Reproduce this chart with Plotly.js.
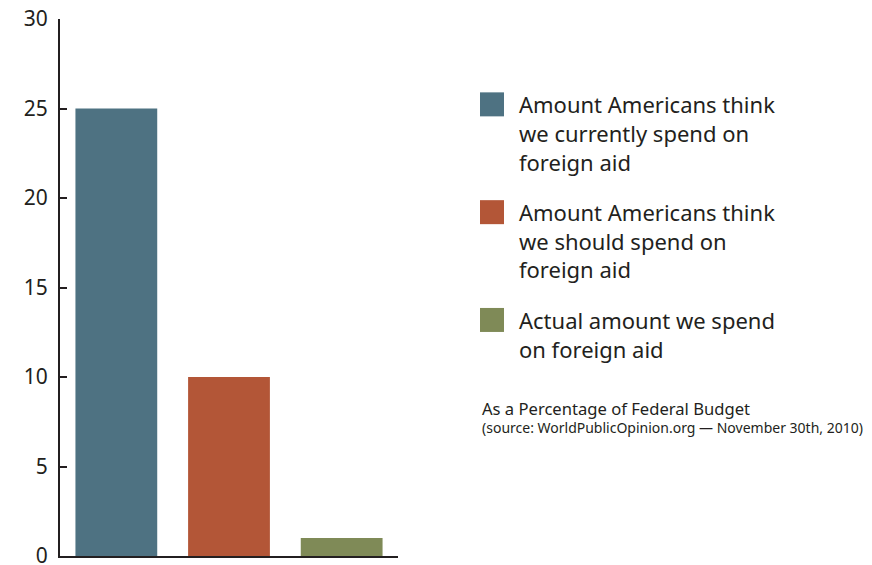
<!DOCTYPE html>
<html>
<head>
<meta charset="utf-8">
<script src="https://cdn.plot.ly/plotly-3.0.1.min.js"></script>
<style>html,body{margin:0;padding:0;background:#fff;}#chart{width:872px;height:565px;}</style>
</head>
<body>
<div id="chart"></div>
<script>
var categories = ["Think we spend", "Should spend", "Actual spend"];
var values = [25, 10, 1];
var seriesNames = [
  "Amount Americans think<br>we currently spend on<br>foreign aid",
  "Amount Americans think<br>we should spend on<br>foreign aid",
  "Actual amount we spend<br>on foreign aid"
];
var colors = ["#4e7282", "#b35637", "#7f8a57"];
var yTickVals = [0, 5, 10, 15, 20, 25, 30];
var noteTitle = "As a Percentage of Federal Budget";
var noteSource = "(source: WorldPublicOpinion.org \u2014 November 30th, 2010)";

var FONT = "Noto Sans, Open Sans, sans-serif";
var INK = "#231f20";

var traces = categories.map(function (c, i) {
  return {
    type: "bar",
    x: [c],
    y: [values[i]],
    name: seriesNames[i],
    legendgroup: "g" + i,
    marker: { color: colors[i], line: { width: 0 } },
    hoverinfo: "y"
  };
});

var layout = {
  width: 872,
  height: 565,
  margin: { l: 60, r: 474, t: 19, b: 9 },
  paper_bgcolor: "#ffffff",
  plot_bgcolor: "#ffffff",
  barmode: "overlay",
  bargap: 0.274,
  showlegend: true,
  font: { family: FONT, color: INK },
  xaxis: {
    type: "category",
    range: [-0.5, 2.5],
    showline: true,
    linecolor: INK,
    linewidth: 2,
    showticklabels: false,
    ticks: "",
    showgrid: false,
    zeroline: false,
    fixedrange: true
  },
  yaxis: {
    range: [0, 30],
    tickvals: yTickVals,
    ticktext: yTickVals.map(String),
    showline: true,
    linecolor: INK,
    linewidth: 2,
    ticks: "inside",
    ticklen: 7,
    tickwidth: 2,
    tickcolor: INK,
    ticklabelstandoff: 6,
    ticklabeloverflow: "allow",
    showgrid: false,
    zeroline: false,
    tickfont: { family: FONT, size: 21, color: INK },
    fixedrange: true
  },
  legend: {
    x: 1.21,
    y: 0.879,
    xanchor: "left",
    yanchor: "top",
    valign: "top",
    traceorder: "grouped",
    tracegroupgap: 19,
    itemwidth: 40,
    bgcolor: "rgba(0,0,0,0)",
    borderwidth: 0,
    font: { family: FONT, size: 22, color: INK }
  },
  annotations: [
    {
      xref: "paper", yref: "paper",
      x: 1.2426, y: 0.2756, xanchor: "left", yanchor: "middle",
      text: noteTitle, showarrow: false,
      font: { family: FONT, size: 16.6, color: INK }
    },
    {
      xref: "paper", yref: "paper",
      x: 1.2426, y: 0.2402, xanchor: "left", yanchor: "middle",
      text: noteSource, showarrow: false,
      font: { family: FONT, size: 14, color: INK }
    }
  ]
};

Plotly.newPlot("chart", traces, layout, { displayModeBar: false, staticPlot: true }).then(function (gd) {
  gd.querySelectorAll(".legend .traces").forEach(function (item) {
    var path = item.querySelector(".legendpoints path");
    var txt = item.querySelector(".legendtext");
    if (!path || !txt) return;
    var line = txt.querySelector("tspan.line") || txt;
    var lr = line.getBoundingClientRect();
    var tr = txt.getBoundingClientRect();
    path.removeAttribute("transform");
    var pr = path.getBoundingClientRect();
    var cx = pr.left + pr.width / 2, cy = pr.top + pr.height / 2;
    var targetCx = tr.left - 15 - 12;
    var targetCy = lr.top + lr.height / 2;
    path.setAttribute("transform", "translate(" + (targetCx - cx) + "," + (targetCy - cy) + ") scale(2)");
  });
});
</script>
</body>
</html>
